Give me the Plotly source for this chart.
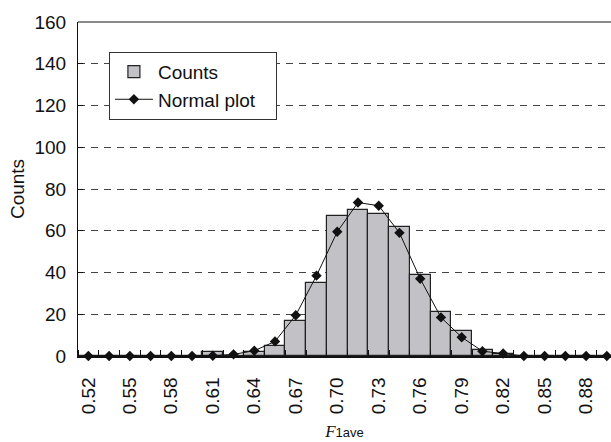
import plotly.graph_objects as go

# F1ave bin centres (bin width 0.015)
f1ave_bins = [0.520, 0.535, 0.550, 0.565, 0.580, 0.595, 0.610, 0.625, 0.640,
              0.655, 0.670, 0.685, 0.700, 0.715, 0.730, 0.745, 0.760, 0.775,
              0.790, 0.805, 0.820, 0.835, 0.850, 0.865, 0.880, 0.895]

# observed counts per bin
counts = [0, 0, 0, 0, 0, 0, 2, 0, 2, 5, 17, 35, 67, 70, 68, 62, 39, 21,
          12, 3, 1, 0, 0, 0, 0, 0]

# fitted normal curve evaluated at the bin centres
normal_plot = [0, 0, 0, 0, 0, 0, 0.1, 0.8, 2.5, 7, 19.5, 38.5, 59.5, 73.5,
               72, 59, 37, 18.5, 9, 2.3, 1.2, 0, 0, 0, 0, 0]

tick_values = [0.52, 0.55, 0.58, 0.61, 0.64, 0.67, 0.70, 0.73, 0.76, 0.79,
               0.82, 0.85, 0.88]
tick_labels = ["0.52", "0.55", "0.58", "0.61", "0.64", "0.67", "0.70", "0.73",
               "0.76", "0.79", "0.82", "0.85", "0.88"]

y_ticks = [0, 20, 40, 60, 80, 100, 120, 140, 160]

BIN_W = 0.015
FONT = "Liberation Sans, Arial, sans-serif"

fig = go.Figure()

fig.add_trace(go.Bar(
    x=f1ave_bins, y=counts, width=BIN_W, name="Counts",
    marker=dict(color="#c2c2c6", line=dict(color="#222222", width=1.2)),
))

fig.add_trace(go.Scatter(
    x=f1ave_bins, y=normal_plot, name="Normal plot&nbsp;&nbsp;&nbsp;",
    mode="lines+markers",
    line=dict(color="#111111", width=1),
    marker=dict(symbol="diamond", size=8, color="#111111"),
    cliponaxis=False,
))

fig.update_layout(
    width=611, height=442,
    margin=dict(l=78, r=0, t=22, b=86),
    paper_bgcolor="white", plot_bgcolor="white",
    font=dict(family=FONT, size=19, color="#111111"),
    bargap=0,
    showlegend=True,
    legend=dict(
        x=0.058, y=0.911, xanchor="left", yanchor="top",
        bgcolor="white", bordercolor="#333333", borderwidth=1,
        font=dict(size=19), tracegroupgap=0, itemwidth=38,
    ),
    shapes=[dict(type="line", xref="paper", yref="paper", x0=0, x1=1,
                 y0=1, y1=1, line=dict(color="#8a8a8a", width=2))],
)

fig.update_xaxes(
    range=[f1ave_bins[0] - BIN_W / 2, f1ave_bins[0] + BIN_W * 25.2],
    tickmode="array", tickvals=tick_values, ticktext=tick_labels,
    tickangle=-90, ticks="", ticklabelstandoff=12,
    tickfont=dict(size=19),
    minor=dict(tick0=f1ave_bins[0] - BIN_W / 2, dtick=BIN_W, ticks="inside",
               ticklen=6, tickcolor="#111111", showgrid=False),
    showline=True, linecolor="#111111", linewidth=1.5,
    showgrid=False, zeroline=False,
    title=dict(
        text="<i><span style='font-family:Liberation Serif, Times New Roman, serif;font-size:17px'>F</span></i>"
             "<span style='font-size:13px'>1ave</span>",
        standoff=8,
    ),
)

fig.update_yaxes(
    range=[0, 160], tickmode="array", tickvals=y_ticks,
    ticks="inside", ticklen=5, tickcolor="#111111",
    tickfont=dict(size=19), ticklabelstandoff=7,
    showline=True, linecolor="#111111", linewidth=1.2,
    showgrid=True, gridcolor="#444444", gridwidth=1, griddash="7px,6px",
    zeroline=False,
    title=dict(text="Counts", font=dict(size=19), standoff=4),
)

fig.write_html("out.html")
